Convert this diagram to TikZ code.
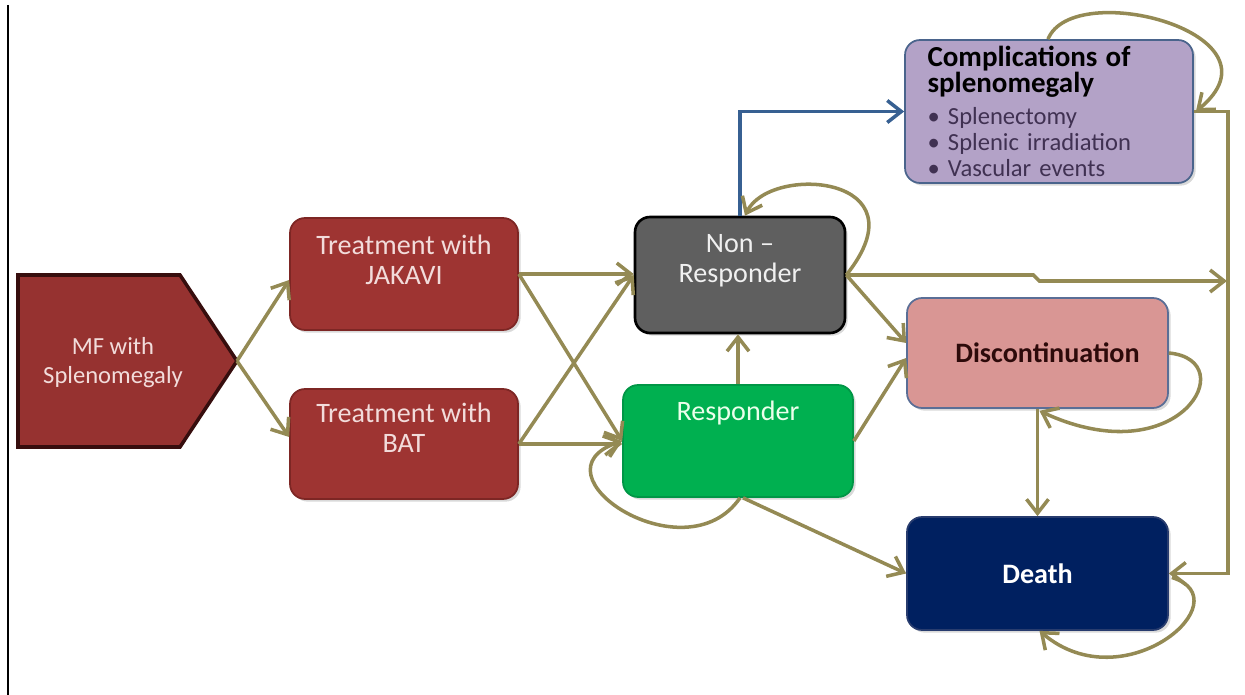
\documentclass[tikz,border=0pt]{standalone}
\usepackage{fontspec}
\setmainfont{Carlito}
\usetikzlibrary{arrows.meta,calc,shadows}
\definecolor{arrcol}{RGB}{148,138,84}
\definecolor{bluearrcol}{RGB}{55,96,146}
\definecolor{mffill}{RGB}{150,50,48}
\definecolor{mfdraw}{RGB}{55,14,14}
\definecolor{redfill}{RGB}{158,52,50}
\definecolor{reddraw}{RGB}{125,38,36}
\definecolor{pinktxt}{RGB}{242,220,219}
\definecolor{nrfill}{RGB}{95,95,95}
\definecolor{rsfill}{RGB}{0,176,80}
\definecolor{rsdraw}{RGB}{0,150,70}
\definecolor{cpfill}{RGB}{179,162,199}
\definecolor{cpdraw}{RGB}{74,100,140}
\definecolor{cptxt}{RGB}{64,49,82}
\definecolor{dcfill}{RGB}{217,150,148}
\definecolor{dcdraw}{RGB}{90,110,150}
\definecolor{dctxt}{RGB}{45,10,10}
\definecolor{dtfill}{RGB}{0,32,96}
\definecolor{dtdraw}{RGB}{40,60,110}
\begin{document}
\begin{tikzpicture}[x=0.02cm,y=-0.02cm,
  arr/.style={draw=arrcol, line width=2pt, -{Straight Barb[length=8pt,width=12.5pt]}},
  bluearr/.style={draw=bluearrcol, line width=2pt, -{Straight Barb[length=8pt,width=12.5pt]}},
  box/.style={rectangle, rounded corners=0.3cm, line width=1pt,
    drop shadow={opacity=0.3,shadow xshift=1.5pt,shadow yshift=-1.5pt}},
  lab/.style={align=center, font=\fontsize{16}{17}\selectfont},
]
\useasboundingbox (0,0) rectangle (1245,695);
\draw[line width=1.2pt] (8,5) -- (8,695);

% MF pentagon
\draw[fill=mffill, draw=mfdraw, line width=2pt]
  (18,275) -- (180,275) -- (237,361) -- (180,447) -- (18,447) -- cycle;
\coordinate (mftip) at (237,361);
\node[align=center, text=pinktxt, font=\fontsize{14}{16.5}\selectfont] (mf) at (113,363) {MF with\\Splenomegaly};

% boxes
\node[box, fill=redfill, draw=reddraw, minimum width=4.56cm, minimum height=2.24cm] (jak) at (404,274) {};
\node[lab, text=pinktxt] (jakt) at ([yshift=0.28cm]jak.center) {Treatment with\\JAKAVI};
\node[box, fill=redfill, draw=reddraw, minimum width=4.56cm, minimum height=2.2cm] (bat) at (404,444) {};
\node[lab, text=pinktxt] (batt) at ([yshift=0.32cm]bat.center) {Treatment with\\BAT};
\node[box, fill=nrfill, draw=black, line width=1.5pt, minimum width=4.2cm, minimum height=2.32cm] (nr) at (740,275) {};
\node[lab, text=white!94!black] (nrt) at ([yshift=0.28cm]nr.center) {Non –\\Responder};
\node[box, fill=rsfill, draw=rsdraw, minimum width=4.6cm, minimum height=2.24cm] (rs) at (738,441) {};
\node[lab, text=white!92!green] (rst) at ([yshift=0.56cm]rs.center) {Responder};
\node[box, fill=cpfill, draw=cpdraw, minimum width=5.76cm, minimum height=2.86cm,
  text width=4.86cm, inner xsep=0.45cm, align=left, text=cptxt,
  font=\fontsize{14}{15}\selectfont] (cp) at (1049,111.5)
  {{\color{black}\fontsize{16.5}{15}\selectfont\bfseries Complications of\\splenomegaly}\\[3pt]
   \textbullet\ Splenectomy\\
   \textbullet\ Splenic irradiation\\
   \textbullet\ Vascular events};
\node[box, fill=dcfill, draw=dcdraw, minimum width=5.22cm, minimum height=2.2cm] (dc) at (1037.5,353) {};
\node[lab, text=dctxt, font=\fontsize{16}{17}\selectfont\bfseries] (dct) at ([xshift=0.2cm]dc.center) {Discontinuation};
\node[box, fill=dtfill, draw=dtdraw, minimum width=5.22cm, minimum height=2.26cm,
  text=white, font=\fontsize{16}{17}\selectfont\bfseries] (dt) at (1037.5,573.5) {Death};

% helper coordinates on the right bus
\coordinate (rtop) at ($(cp.east)+(34,0)$);
\coordinate (rmid) at (1227,281);

% connectors
\draw[arr] (mftip) -- ($(jak.west)+(0,6)$);
\draw[arr] (mftip) -- ($(bat.west)+(0,-7)$);
\draw[arr] (jak.east) -- (jak.east -| nr.west);
\draw[arr] (jak.east) -- (rs.west);
\draw[arr] (bat.east) -- (nr.west);
\draw[arr] (bat.east) -- (bat.east -| rs.west);
\draw[arr] (rs.north) -- (rs.north |- nr.south);
\draw[bluearr] (nr.north) |- (cp.west);
\draw[arr] (nr.east) -- ($(dc.west)+(0,-10)$);
\draw[arr] (rs.east) -- ($(dc.west)+(0,5)$);
\draw[arr] ($(rs.south)+(5,0)$) -- (dt.west);
\draw[arr] (dc.south) -- (dt.north);
\draw[arr] (cp.east) -- (rtop) |- (dt.east);
\draw[arr] (nr.east) -- ++(187,0) -- ++(6,6) -- (rmid);

% self loops
\draw[arr] (nr.east) .. controls +(80,-100) and +(25,-52) .. ($(nr.north)+(5,0)$);
\draw[arr] ($(cp.north)+(-1,0)$) .. controls +(25,-62) and +(95,-78) .. ($(cp.east)+(2,0)$);
\draw[arr] (dc.east) .. controls +(75,7) and +(140,65) .. ($(dc.south)+(2,2)$);
\draw[arr] ($(dt.east)+(3,4)$) .. controls +(72,22) and +(85,72) .. ($(dt.south)+(2,0)$);
\draw[arr] ($(rs.south)+(2,0)$) .. controls +(-55,80) and +(-95,32) .. (rs.west);
\end{tikzpicture}
\end{document}
